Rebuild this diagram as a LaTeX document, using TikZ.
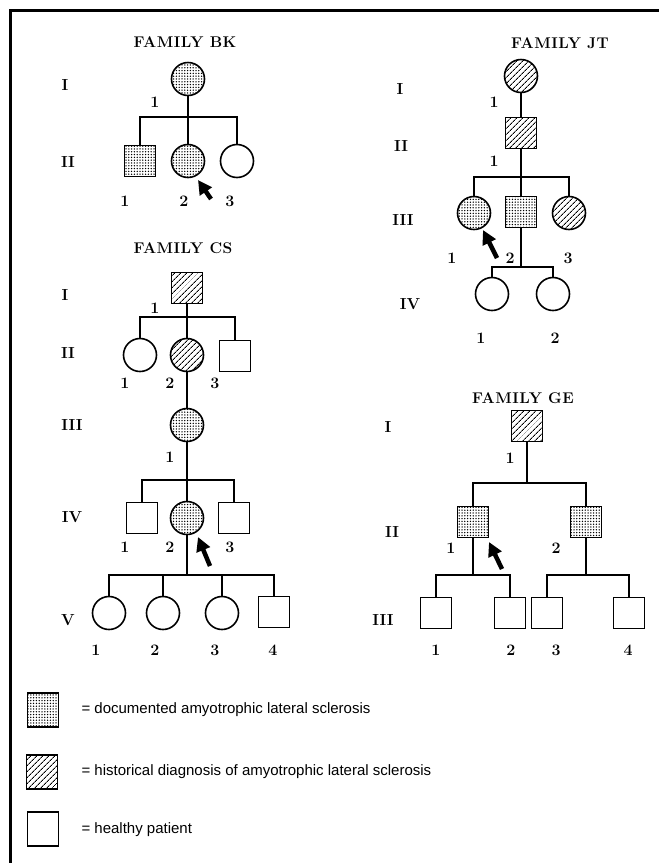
\documentclass[tikz,border=0pt]{standalone}
\usepackage{fontspec}
\newfontfamily\legfont{Liberation Sans}
\newfontfamily\ttlfont[LetterSpace=3]{Latin Modern Roman}
\usetikzlibrary{patterns.meta,arrows.meta}
\begin{document}
\begin{tikzpicture}[x=1pt,y=-1pt,
 ln/.style={line width=1.4pt},
 fem/.style={circle,draw,line width=1.6pt,minimum size=33pt,inner sep=0pt},
 mal/.style={rectangle,draw,line width=1.6pt,minimum size=31pt,inner sep=0pt},
 doc/.style={pattern={Dots[distance=2.8pt,radius=0.75pt]}},
 hist/.style={pattern={Lines[angle=45,distance=4pt,line width=1pt]}},
 ttl/.style={font=\ttlfont\bfseries\fontsize{15.5}{18}\selectfont},
 gen/.style={font=\bfseries\fontsize{16}{18}\selectfont},
 num/.style={font=\bfseries\fontsize{16}{18}\selectfont},
 leg/.style={font=\legfont\fontsize{15}{17}\selectfont,anchor=west},
 ptr/.style={line width=4.5pt,-{Triangle[length=14pt,width=14pt]}}
]
\useasboundingbox (0,0) rectangle (659,863);
% frame
\coordinate (fTR) at (659,10);
\coordinate (fTL) at (10.5,10);
\coordinate (fBL) at (10.5,863);
\draw[line width=3pt] (fTR) -- (fTL) -- (fBL);

% ---------------- FAMILY BK
\node[ttl] (bkT) at (185,42) {FAMILY BK};
\node[gen] (bkG1) at (65,85) {I};
\node[gen] (bkG2) at (68,162) {II};
\node[fem,doc] (bk11) at (188,79) {};
\node[num] (bk11n) at (155,102) {1};
\coordinate (bkS) at (188,117);
\node[mal,doc] (bk21) at (140,161) {};
\node[fem,doc] (bk22) at (188,161) {};
\node[fem] (bk23) at (237,161) {};
\node[num] (bk21n) at (125,201) {1};
\node[num] (bk22n) at (184,201) {2};
\node[num] (bk23n) at (230,201) {3};
\draw[ln] (bk11.south) -- (bkS);
\draw[ln] (bk21.north) |- (bk23.north |- bkS) -- (bk23.north);
\draw[ln] (bkS) -- (bk22.north);
\coordinate (bkAt) at (198,180);
\coordinate (bkAs) at (211,199);
\draw[ptr] (bkAs) -- (bkAt);

% ---------------- FAMILY JT
\node[ttl] (jtT) at (560,43) {FAMILY JT};
\node[gen] (jtG1) at (400,89) {I};
\node[gen] (jtG2) at (401,146) {II};
\node[gen] (jtG3) at (403,220) {III};
\node[gen] (jtG4) at (410,304) {IV};
\node[fem,hist] (jt11) at (521,76) {};
\node[num] (jt11n) at (494,102) {1};
\node[mal,hist] (jt21) at (521,133) {};
\node[num] (jt21n) at (494,161) {1};
\coordinate (jtS1) at (521,177);
\node[fem,doc] (jt31) at (474,213) {};
\node[mal,doc] (jt32) at (521,212) {};
\node[fem,hist] (jt33) at (569,213) {};
\node[num] (jt31n) at (452,258) {1};
\node[num] (jt32n) at (510,258) {2};
\node[num] (jt33n) at (568,258) {3};
\coordinate (jtS2) at (521,267);
\node[fem] (jt41) at (492,294) {};
\node[fem] (jt42) at (553,294) {};
\node[num] (jt41n) at (481,338) {1};
\node[num] (jt42n) at (555,338) {2};
\draw[ln] (jt11.south) -- (jt21.north);
\draw[ln] (jt21.south) -- (jtS1);
\draw[ln] (jt31.north) |- (jt33.north |- jtS1) -- (jt33.north);
\draw[ln] (jtS1) -- (jt32.north);
\draw[ln] (jt32.south) -- (jtS2);
\draw[ln] (jt41.north) |- (jt42.north |- jtS2) -- (jt42.north);
\coordinate (jtAt) at (483,230);
\coordinate (jtAs) at (497,258);
\draw[ptr] (jtAs) -- (jtAt);

% ---------------- FAMILY CS
\node[ttl] (csT) at (183,248) {FAMILY CS};
\node[gen] (csG1) at (65,295) {I};
\node[gen] (csG2) at (68,353) {II};
\node[gen] (csG3) at (72,425) {III};
\node[gen] (csG4) at (72,517) {IV};
\node[gen] (csG5) at (68,620) {V};
\node[mal,hist] (cs11) at (187,288) {};
\node[num] (cs11n) at (155,308) {1};
\coordinate (csS1) at (187,317);
\node[fem] (cs21) at (140,355) {};
\node[fem,hist] (cs22) at (187,355) {};
\node[mal] (cs23) at (235,356) {};
\node[num] (cs21n) at (125,383) {1};
\node[num] (cs22n) at (170,383) {2};
\node[num] (cs23n) at (215,383) {3};
\node[fem,doc] (cs31) at (187,425) {};
\node[num] (cs31n) at (170,457) {1};
\coordinate (csS2) at (187,480);
\node[mal] (cs41) at (142,518) {};
\node[fem,doc] (cs42) at (187,518) {};
\node[mal] (cs43) at (234,518) {};
\node[num] (cs41n) at (125,547) {1};
\node[num] (cs42n) at (170,547) {2};
\node[num] (cs43n) at (230,547) {3};
\coordinate (csS3) at (187,575);
\node[fem] (cs51) at (109,613) {};
\node[fem] (cs52) at (163,613) {};
\node[fem] (cs53) at (222,613) {};
\node[mal] (cs54) at (274,612) {};
\node[num] (cs51n) at (96,650) {1};
\node[num] (cs52n) at (155,650) {2};
\node[num] (cs53n) at (215,650) {3};
\node[num] (cs54n) at (273,650) {4};
\draw[ln] (cs11.south) -- (csS1);
\draw[ln] (cs21.north) |- (cs23.north |- csS1) -- (cs23.north);
\draw[ln] (csS1) -- (cs22.north);
\draw[ln] (cs22.south) -- (cs31.north);
\draw[ln] (cs31.south) -- (csS2);
\draw[ln] (cs41.north) |- (cs43.north |- csS2) -- (cs43.north);
\draw[ln] (csS2) -- (cs42.north);
\draw[ln] (cs42.south) -- (csS3);
\draw[ln] (cs51.north) |- (cs54.north |- csS3) -- (cs54.north);
\draw[ln] (cs52.north) -- (cs52.north |- csS3);
\draw[ln] (cs53.north) -- (cs53.north |- csS3);
\coordinate (csAt) at (198,537);
\coordinate (csAs) at (210,566);
\draw[ptr] (csAs) -- (csAt);

% ---------------- FAMILY GE
\node[ttl] (geT) at (523,398) {FAMILY GE};
\node[gen] (geG1) at (388,427) {I};
\node[gen] (geG2) at (392,532) {II};
\node[gen] (geG3) at (383,620) {III};
\node[mal,hist] (ge11) at (527,426) {};
\node[num] (ge11n) at (510,458) {1};
\coordinate (geS1) at (527,483);
\node[mal,doc] (ge21) at (473,522) {};
\node[mal,doc] (ge22) at (586,522) {};
\node[num] (ge21n) at (451,548) {1};
\node[num] (ge22n) at (556,548) {2};
\coordinate (geS2) at (473,575);
\coordinate (geS3) at (586,575);
\node[mal] (ge31) at (436,613) {};
\node[mal] (ge32) at (510,613) {};
\node[mal] (ge33) at (547,613) {};
\node[mal] (ge34) at (629,613) {};
\node[num] (ge31n) at (436,650) {1};
\node[num] (ge32n) at (511,650) {2};
\node[num] (ge33n) at (556,650) {3};
\node[num] (ge34n) at (628,650) {4};
\draw[ln] (ge11.south) -- (geS1);
\draw[ln] (ge21.north) |- (ge22.north |- geS1) -- (ge22.north);
\draw[ln] (ge21.south) -- (geS2);
\draw[ln] (ge31.north) |- (ge32.north |- geS2) -- (ge32.north);
\draw[ln] (ge22.south) -- (geS3);
\draw[ln] (ge33.north) |- (ge34.north |- geS3) -- (ge34.north);
\coordinate (geAt) at (489,542);
\coordinate (geAs) at (502,569);
\draw[ptr] (geAs) -- (geAt);

% ---------------- Legend
\node[mal,doc,minimum width=31pt,minimum height=34pt] (lg1) at (43,710) {};
\node[mal,hist,minimum width=31pt,minimum height=34pt] (lg2) at (42,772) {};
\node[mal,minimum width=31pt,minimum height=34pt] (lg3) at (43,829) {};
\node[leg] (lg1t) at (78,710) {= documented amyotrophic lateral sclerosis};
\node[leg] (lg2t) at (78,772) {= historical diagnosis of amyotrophic lateral sclerosis};
\node[leg] (lg3t) at (78,830) {= healthy patient};
\end{tikzpicture}
\end{document}
